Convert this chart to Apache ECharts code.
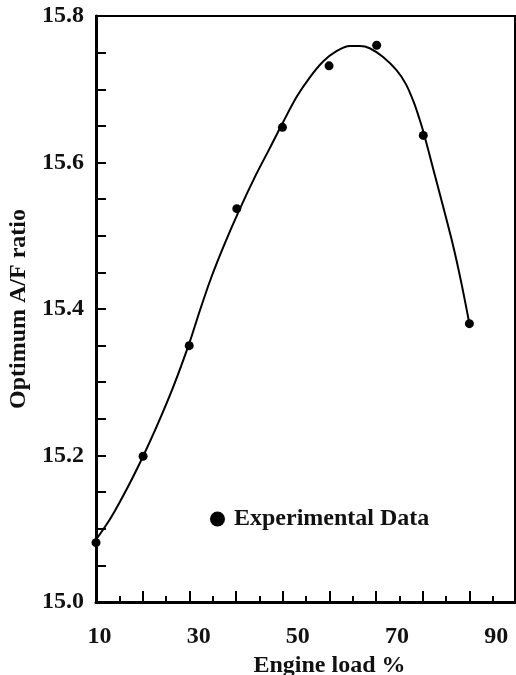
<!DOCTYPE html>
<html>
<head>
<meta charset="utf-8">
<script src="https://cdn.jsdelivr.net/npm/echarts@6/dist/echarts.min.js"></script>
<style>html,body{margin:0;padding:0;background:#fff;overflow:hidden;}#c{width:516px;height:675px;}</style>
</head>
<body>
<div id="c"></div>
<script>
// Experimental data (engine load %, optimum A/F ratio)
var loadPoints = [10.0, 19.5, 28.8, 38.4, 47.6, 57.0, 66.6, 76.0, 85.3];
var afPoints   = [15.081, 15.199, 15.350, 15.537, 15.648, 15.732, 15.760, 15.637, 15.380];

// Fitted curve
var curveLoad = [10.0, 13.0, 16.5, 19.5, 22.2, 25.6, 28.8, 31.0, 33.3, 36.0, 38.9, 42.1, 45.0, 47.8, 50.5, 53.2, 55.8, 58.5, 61.2, 63.2, 65.2, 67.9, 70.6, 72.5, 74.1, 75.3, 76.1, 77.9, 80.0, 82.0, 83.7, 85.3];
var curveAF   = [15.085, 15.115, 15.158, 15.199, 15.239, 15.294, 15.353, 15.399, 15.444, 15.490, 15.535, 15.581, 15.619, 15.656, 15.690, 15.717, 15.738, 15.752, 15.759, 15.759, 15.756, 15.744, 15.726, 15.707, 15.682, 15.658, 15.640, 15.594, 15.540, 15.487, 15.435, 15.380];

var xTickLabels = [10, 30, 50, 70, 90];
var yTickLabels = [15.0, 15.2, 15.4, 15.6, 15.8];

var legendName = 'Experimental Data';
var xName = 'Engine load %';
var yName = 'Optimum A/F ratio';

var FONT = '"Liberation Serif", "Times New Roman", serif';
var INK = '#000';

var chart = echarts.init(document.getElementById('c'), null, {renderer: 'canvas'});

function zip(a, b) { return a.map(function (v, i) { return [v, b[i]]; }); }

chart.setOption({
  backgroundColor: '#fff',
  animation: false,
  grid: {left: 96, right: 1, top: 16, bottom: 73, containLabel: false, outerBoundsMode: 'none',
         show: true, borderColor: INK, borderWidth: 2, backgroundColor: 'transparent'},
  legend: {
    data: [legendName], left: 205, top: 502, icon: 'circle', itemWidth: 15, itemHeight: 15,
    itemStyle: {color: INK, opacity: 1},
    textStyle: {fontFamily: FONT, fontWeight: 'bold', fontSize: 24, color: '#111', padding: [0, 0, 0, 4]}
  },
  xAxis: [{
    type: 'value', min: 10, max: 94.5, interval: 20, position: 'bottom',
    name: xName, nameLocation: 'middle', nameGap: 51,
    nameTextStyle: {fontFamily: FONT, fontWeight: 'bold', fontSize: 24, color: '#111', padding: [0, 0, 0, 48]},
    axisLine: {show: true, lineStyle: {color: INK, width: 3}},
    axisTick: {show: false}, splitLine: {show: false},
    axisLabel: {
      margin: 23, showMaxLabel: false, fontFamily: FONT, fontWeight: 'bold', fontSize: 24, color: '#111', padding: [0, 0, 0, 7],
      formatter: function (v) { return xTickLabels.indexOf(Math.round(v)) >= 0 && Math.abs(v - Math.round(v)) < 1e-6 ? String(Math.round(v)) : ''; }
    }
  }, {
    type: 'value', min: 10, max: 99.8, interval: 10, position: 'bottom',
    axisLine: {show: false}, axisLabel: {show: false}, splitLine: {show: false},
    axisTick: {show: true, inside: true, length: 11, lineStyle: {color: INK, width: 2}},
    minorTick: {show: true, splitNumber: 2, length: 6, lineStyle: {color: INK, width: 2}},
    minorSplitLine: {show: false}
  }],
  yAxis: {
    type: 'value', min: 15.0, max: 15.8, interval: 0.2,
    name: yName, nameLocation: 'middle', nameGap: 60,
    nameTextStyle: {fontFamily: FONT, fontWeight: 'bold', fontSize: 24, color: '#111'},
    axisLine: {show: true, lineStyle: {color: INK, width: 3}},
    axisTick: {show: true, inside: true, length: 10, lineStyle: {color: INK, width: 2}},
    minorTick: {show: true, splitNumber: 4, length: 10, lineStyle: {color: INK, width: 2}},
    splitLine: {show: false},
    axisLabel: {
      margin: 12, fontFamily: FONT, fontWeight: 'bold', fontSize: 24, color: '#111', padding: [6, 0, 0, 0],
      formatter: function (v) {
        for (var i = 0; i < yTickLabels.length; i++) { if (Math.abs(v - yTickLabels[i]) < 1e-6) return yTickLabels[i].toFixed(1); }
        return '';
      }
    }
  },
  series: [{
    name: 'Fit', type: 'line', xAxisIndex: 0, data: zip(curveLoad, curveAF), smooth: 0.3, showSymbol: false,
    lineStyle: {color: INK, width: 2}, z: 2, silent: true
  }, {
    name: legendName, type: 'scatter', xAxisIndex: 0, data: zip(loadPoints, afPoints), symbol: 'circle', symbolSize: 9,
    itemStyle: {color: INK, opacity: 1}, z: 3
  }]
});
</script>
</body>
</html>
